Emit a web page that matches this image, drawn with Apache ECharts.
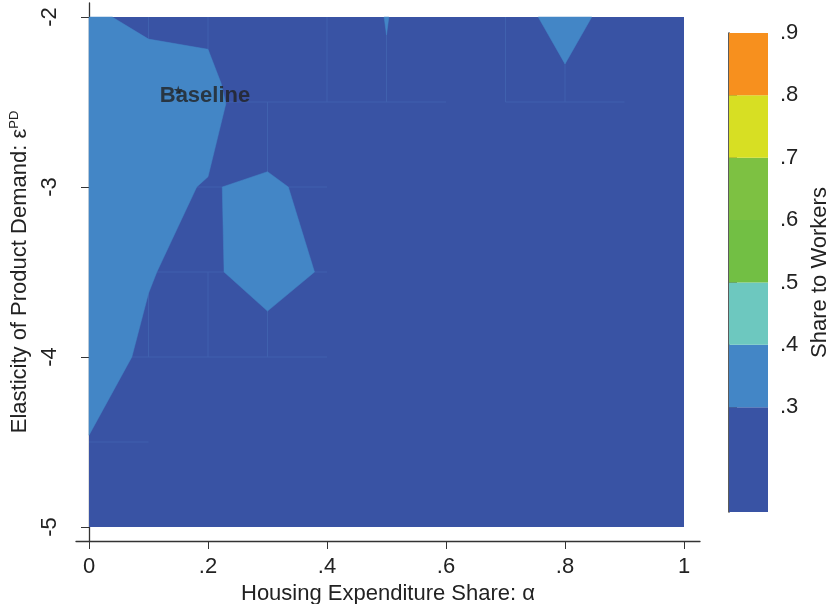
<!DOCTYPE html>
<html><head><meta charset="utf-8">
<script src="https://cdn.jsdelivr.net/npm/echarts@6/dist/echarts.min.js"></script>
<style>html,body{margin:0;padding:0;background:#fff}#c{width:832px;height:604px}</style>
</head><body><div id="c"></div>
<script>
// ---- data ----
const xTicks = [0, 0.2, 0.4, 0.6, 0.8, 1];
const yTicks = [-5, -4, -3, -2];
const barTicks = [0.3, 0.4, 0.5, 0.6, 0.7, 0.8, 0.9];
const cutLevels = [0.132, 0.3, 0.4, 0.5, 0.6, 0.7, 0.8, 0.9];
const cutColors = ['#3953A4', '#4386C6', '#6DC8BF', '#72BF44', '#7DC142', '#D7DF23', '#F7901E'];
// contour regions: [alpha, elasticity] vertices and the share level inside each
const domainRegion = [[0, -2], [1, -2], [1, -5], [0, -5]];
const leftRegion = [[0, -2], [0.039, -2], [0.1, -2.13], [0.2, -2.19], [0.222, -2.39], [0.23, -2.51],
  [0.2, -2.94], [0.181, -3.0], [0.114, -3.5], [0.1, -3.625], [0.072, -4.0], [0, -4.46]];
const hexRegion = [[0.224, -3.0], [0.3, -2.91], [0.335, -3.0], [0.379, -3.5], [0.3, -3.73], [0.227, -3.5]];
const spikeRegion = [[0.496, -2], [0.504, -2], [0.5, -2.105]];
const triRegion = [[0.755, -2], [0.845, -2], [0.8, -2.276]];
const regions = [domainRegion, leftRegion, hexRegion, spikeRegion, triRegion];
const regionShares = [0.25, 0.35, 0.35, 0.35, 0.35];
// faint tile seams of the contour fill (drawn beneath the upper contour regions)
const seams = [
  [[0.1, -2], [0.1, -2.5]], [[0.2, -2], [0.2, -2.5]], [[0.4, -2], [0.4, -2.5]],
  [[0.5, -2], [0.5, -2.5]], [[0.7, -2], [0.7, -2.5]], [[0.8, -2], [0.8, -2.5]],
  [[0.2, -2.5], [0.6, -2.5]], [[0.7, -2.5], [0.9, -2.5]],
  [[0.3, -2.5], [0.3, -4]], [[0.1, -3.5], [0.1, -4]], [[0.2, -3.5], [0.2, -4]],
  [[0.1, -3], [0.4, -3]], [[0.1, -3.5], [0.4, -3.5]], [[0, -4], [0.4, -4]], [[0, -4.5], [0.1, -4.5]]
];
const baselinePoint = [0.15, -2.43];

// ---- helpers ----
const FONT = "'Liberation Sans', Arial, Helvetica, sans-serif";
const FS = 22;
function fmt(v) {
  if (Math.abs(v - Math.round(v)) < 1e-9) return String(Math.round(v));
  return String(+v.toFixed(2)).replace(/^(-?)0\./, '$1.');
}
function shareColor(s) {
  for (let i = 0; i < cutColors.length; i++) if (s < cutLevels[i + 1]) return cutColors[i];
  return cutColors[cutColors.length - 1];
}
const bands = cutColors.map((c, i) => [cutLevels[i], cutLevels[i + 1], i]);

const chart = echarts.init(document.getElementById('c'), null, {renderer: 'canvas'});
const axisLineStyle = {color: '#333', width: 1.3};
chart.setOption({
  animation: false,
  textStyle: {fontFamily: FONT},
  grid: [
    {left: 76, right: 132, top: 3, bottom: 63, containLabel: false, outerBoundsMode: 'none'},
    {left: 729, top: 33, width: 39, height: 479, containLabel: false, outerBoundsMode: 'none'}
  ],
  xAxis: [
    {type: 'value', gridIndex: 0, min: -13 / 595, max: 1 + 16 / 595,
      axisLine: {show: true, lineStyle: axisLineStyle},
      axisTick: {show: true, length: 8, customValues: xTicks, lineStyle: {color: '#333'}},
      axisLabel: {customValues: xTicks, formatter: fmt, fontSize: FS, color: '#222', margin: 15, fontFamily: FONT},
      splitLine: {show: false},
      name: 'Housing Expenditure Share: α', nameLocation: 'middle', nameGap: 34,
      nameTextStyle: {fontSize: FS, color: '#222', fontFamily: FONT}},
    {type: 'value', gridIndex: 1, min: 0, max: 1, show: false}
  ],
  yAxis: [
    {type: 'value', gridIndex: 0, min: -5 - 14 / 170, max: -2 + 14 / 170,
      axisLine: {show: true, lineStyle: axisLineStyle},
      axisTick: {show: true, length: 8, customValues: yTicks, lineStyle: {color: '#333'}},
      axisLabel: {customValues: yTicks, formatter: fmt, fontSize: FS, color: '#222', margin: 15, rotate: 90, fontFamily: FONT},
      splitLine: {show: false},
      name: '{a|Elasticity of Product Demand: ε}{b|PD}', nameLocation: 'middle', nameRotate: 90, nameGap: 36,
      nameTextStyle: {rich: {
        a: {fontSize: FS, color: '#222', fontFamily: FONT},
        b: {fontSize: 13, color: '#222', fontFamily: FONT, padding: [0, 0, 11, 0]}
      }}},
    {type: 'value', gridIndex: 1, position: 'right', min: cutLevels[0], max: 0.9,
      axisLine: {show: true, lineStyle: {color: '#333', width: 1.6}},
      axisTick: {show: true, length: 8, customValues: barTicks, lineStyle: {color: '#555'}},
      axisLabel: {customValues: barTicks, formatter: fmt, fontSize: FS, color: '#222', margin: 12, fontFamily: FONT},
      splitLine: {show: false},
      name: 'Share to Workers', nameLocation: 'middle', nameRotate: 90, nameGap: 41,
      nameTextStyle: {fontSize: FS, color: '#222', fontFamily: FONT}}
  ],
  series: [
    {type: 'custom', xAxisIndex: 0, yAxisIndex: 0, silent: true, z: 1,
      data: [[0]], encode: {x: -1, y: -1},
      renderItem: function (params, api) {
        return {type: 'polygon', shape: {points: regions[0].map(p => api.coord(p))},
          style: {fill: shareColor(regionShares[0])}};
      }},
    {type: 'custom', xAxisIndex: 0, yAxisIndex: 0, silent: true, z: 2,
      data: seams.map((s, i) => [i]), encode: {x: -1, y: -1},
      renderItem: function (params, api) {
        const s = seams[api.value(0)];
        const a = api.coord(s[0]), b = api.coord(s[1]);
        return {type: 'line', shape: {x1: a[0], y1: a[1], x2: b[0], y2: b[1]},
          style: {stroke: '#4061AE', lineWidth: 1}};
      }},
    {type: 'custom', xAxisIndex: 0, yAxisIndex: 0, silent: true, z: 3,
      data: regions.slice(1).map((r, i) => [i + 1]), encode: {x: -1, y: -1},
      renderItem: function (params, api) {
        const i = api.value(0);
        const c = shareColor(regionShares[i]);
        return {type: 'polygon', shape: {points: regions[i].map(p => api.coord(p))},
          style: {fill: c, stroke: c, lineWidth: 0.5}};
      }},
    {type: 'scatter', xAxisIndex: 0, yAxisIndex: 0, silent: true, z: 4,
      data: [baselinePoint],
      symbol: 'path://M50,0 L61,35 L98,35 L68,57 L79,91 L50,70 L21,91 L32,57 L2,35 L39,35 Z',
      symbolSize: 9, itemStyle: {color: '#222'},
      label: {show: true, formatter: 'Baseline', position: 'right', distance: 0, offset: [-23, 6],
        fontSize: FS, fontWeight: 'bold', color: '#222', fontFamily: FONT}},
    {type: 'custom', xAxisIndex: 1, yAxisIndex: 1, silent: true,
      data: bands,
      encode: {x: -1, y: [0, 1]},
      renderItem: function (params, api) {
        const lo = api.value(0), hi = api.value(1), ci = api.value(2);
        const a = api.coord([0, hi]), b = api.coord([1, lo]);
        return {type: 'rect', shape: {x: a[0], y: a[1], width: b[0] - a[0], height: b[1] - a[1]},
          style: {fill: cutColors[ci]}};
      }}
  ]
});
</script></body></html>
